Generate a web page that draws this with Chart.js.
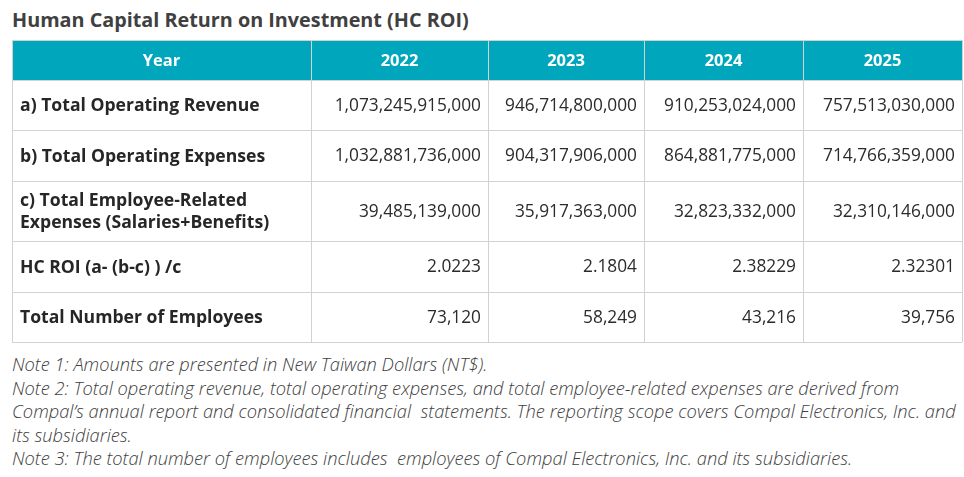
<!DOCTYPE html>
<html>
<head>
<meta charset="utf-8">
<script src="https://cdn.jsdelivr.net/npm/chart.js@4"></script>
<style>
    body { margin: 0; background: #fff; width: 964px; height: 477px; position: relative; overflow: hidden; }
    #title { position: absolute; left: 12px; top: 6px; font: bold 19.8px "Open Sans", "Noto Sans", sans-serif; color: #404040; white-space: nowrap; }
    #wrap { position: absolute; left: 0; top: 0; width: 964px; height: 344px; }
    #notes { position: absolute; left: 12px; top: 352px; font: italic 300 18.3px "Open Sans", "Noto Sans", sans-serif; color: #404040; line-height: 23.5px; white-space: nowrap; }
</style>
</head>
<body>
<div id="title">Human Capital Return on Investment (HC ROI)</div>
<div id="wrap"><canvas id="hcTable" width="964" height="344"></canvas></div>
<div id="notes">
    Note 1: Amounts are presented in New Taiwan Dollars (NT$).<br>
    Note 2: Total operating revenue, total operating expenses, and total employee-related expenses are derived from<br>
    Compal’s annual report and consolidated financial&nbsp; statements. The reporting scope covers Compal Electronics, Inc. and<br>
    its subsidiaries.<br>
    Note 3: The total number of employees includes&nbsp; employees of Compal Electronics, Inc. and its subsidiaries.
</div>
<script>
document.addEventListener("DOMContentLoaded", () => {
    // Table data
    const headerLabel = "Year";
    const years = ["2022", "2023", "2024", "2025"];
    const rowLabels = [
        ["a) Total Operating Revenue"],
        ["b) Total Operating Expenses"],
        ["c) Total Employee-Related", "Expenses (Salaries+Benefits)"],
        ["HC ROI (a- (b-c) ) /c"],
        ["Total Number of Employees"]
    ];
    const revenue = [1073245915000, 946714800000, 910253024000, 757513030000];
    const expenses = [1032881736000, 904317906000, 864881775000, 714766359000];
    const employeeExpenses = [39485139000, 35917363000, 32823332000, 32310146000];
    const hcRoi = [2.0223, 2.1804, 2.38229, 2.32301];
    const employees = [73120, 58249, 43216, 39756];

    const fmt = v => Number.isInteger(v) ? v.toLocaleString("en-US") : String(v);
    const rows = [revenue, expenses, employeeExpenses, hcRoi, employees];

    // column / row edges in scale units
    const colEdges = [0, 299, 476, 632, 791, 950];
    const rowEdges = [0, 40, 90, 141, 201, 252, 302];

    const tablePlugin = {
        id: "tablePlugin",
        afterDraw(chart) {
            const ctx = chart.ctx;
            const x = chart.scales.x;
            const y = chart.scales.y;
            const px = v => Math.round(x.getPixelForValue(v));
            const py = v => Math.round(y.getPixelForValue(v));
            ctx.save();

            // header band
            ctx.fillStyle = "#00A6BB";
            ctx.fillRect(px(0), py(0), px(950) - px(0), py(40) - py(0));

            // grid lines
            ctx.strokeStyle = "#D2D2D2";
            ctx.lineWidth = 1;
            ctx.beginPath();
            rowEdges.forEach(r => {
                ctx.moveTo(px(0), py(r) + 0.5);
                ctx.lineTo(px(950), py(r) + 0.5);
            });
            colEdges.forEach(c => {
                ctx.moveTo(px(c) + 0.5, py(0));
                ctx.lineTo(px(c) + 0.5, py(302));
            });
            ctx.stroke();

            // header text
            ctx.fillStyle = "#FFFFFF";
            ctx.font = "bold 16.5px 'Open Sans', 'Noto Sans', sans-serif";
            ctx.textAlign = "center";
            ctx.textBaseline = "middle";
            const headY = (py(rowEdges[0]) + py(rowEdges[1])) / 2 + 1;
            [headerLabel, ...years].forEach((t, i) => {
                ctx.fillText(t, (px(colEdges[i]) + px(colEdges[i + 1])) / 2, headY);
            });

            // body rows
            rows.forEach((vals, r) => {
                const cy = (py(rowEdges[r + 1]) + py(rowEdges[r + 2])) / 2 + 1;
                ctx.fillStyle = "#262626";
                ctx.font = "bold 17.6px 'Open Sans', 'Noto Sans', sans-serif";
                ctx.textAlign = "left";
                const lines = rowLabels[r];
                lines.forEach((l, k) => {
                    ctx.fillText(l, px(colEdges[0]) + 8, cy + (k - (lines.length - 1) / 2) * 22);
                });
                ctx.fillStyle = "#2B2B2B";
                ctx.font = "17.3px 'Open Sans', 'Noto Sans', sans-serif";
                ctx.textAlign = "right";
                vals.forEach((v, i) => {
                    ctx.fillText(fmt(v), px(colEdges[i + 2]) - 7, cy);
                });
            });
            ctx.restore();
        }
    };

    new Chart(document.getElementById("hcTable"), {
        type: "scatter",
        data: { datasets: [{ data: [], pointRadius: 0 }] },
        options: {
            responsive: false,
            animation: false,
            layout: { padding: { left: 12, right: 2, top: 40, bottom: 2 } },
            plugins: { legend: { display: false }, tooltip: { enabled: false }, title: { display: false } },
            scales: {
                x: { type: "linear", display: false, min: 0, max: 950 },
                y: { type: "linear", display: false, min: 0, max: 302, reverse: true }
            }
        },
        plugins: [tablePlugin]
    });
});
</script>
</body>
</html>
